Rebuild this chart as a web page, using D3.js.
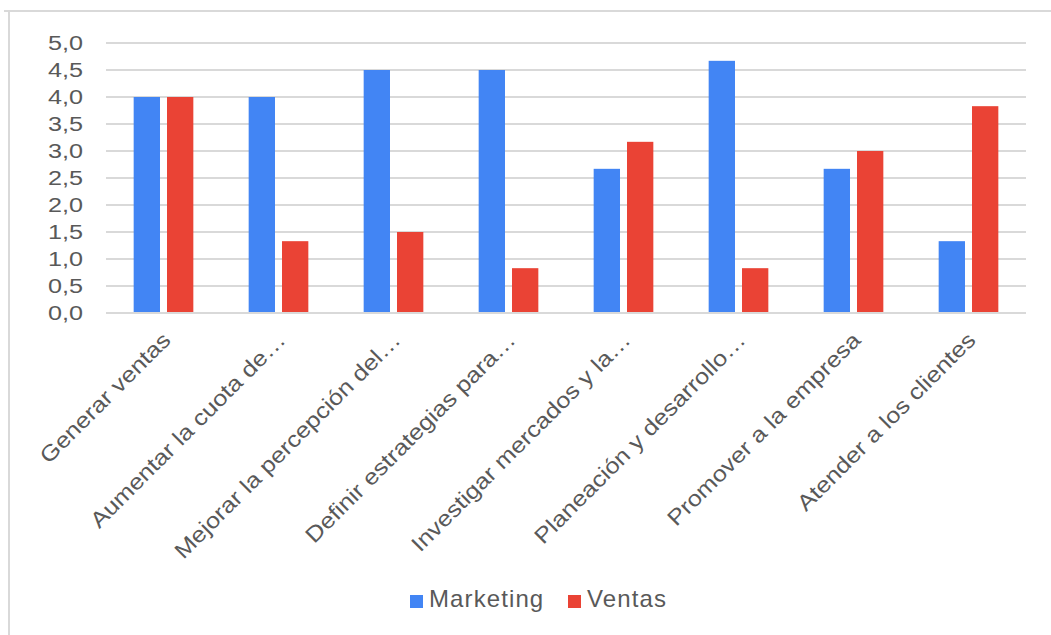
<!DOCTYPE html>
<html>
<head>
<meta charset="utf-8">
<script src="https://cdn.jsdelivr.net/npm/d3@7"></script>
<style>
  body { margin: 0; background: #fff; }
  text { font-family: "Liberation Sans", Arial, sans-serif; fill: #595959; }
</style>
</head>
<body>
<div id="chart"></div>
<script>
// categories and values
var categories = [
  "Generar ventas",
  "Aumentar la cuota de…",
  "Mejorar la percepción del…",
  "Definir estrategias para…",
  "Investigar mercados y la…",
  "Planeación y desarrollo…",
  "Promover a la empresa",
  "Atender a los clientes"
];
var marketing = [4.0, 4.0, 4.5, 4.5, 2.67, 4.67, 2.67, 1.33];
var ventas = [4.0, 1.33, 1.5, 0.83, 3.17, 0.83, 3.0, 3.83];
var seriesNames = ["Marketing", "Ventas"];
var yTicks = [0, 0.5, 1, 1.5, 2, 2.5, 3, 3.5, 4, 4.5, 5];

var width = 1051, height = 635;
var colors = { "Marketing": "#4285f4", "Ventas": "#ea4335" };

var data = categories.map(function(c, i) {
  return { cat: c, Marketing: marketing[i], Ventas: ventas[i] };
});

var svg = d3.select('#chart').append('svg')
  .attr('width', width)
  .attr('height', height);

svg.append('rect').attr('width', width).attr('height', height).attr('fill', '#fff');

// outer frame (top and left edges are visible)
svg.append('line').attr('x1', 4).attr('x2', width).attr('y1', 11).attr('y2', 11)
  .attr('stroke', '#d9d9d9').attr('stroke-width', 2);
svg.append('line').attr('x1', 9).attr('x2', 9).attr('y1', 10).attr('y2', height)
  .attr('stroke', '#d9d9d9').attr('stroke-width', 2);

var x0 = d3.scaleBand().domain(categories).range([106, 1026]);
var x1 = d3.scaleBand().domain(seriesNames)
  .range([0, x0.bandwidth()])
  .paddingInner(0.21)
  .paddingOuter(0.83);
var y = d3.scaleLinear().domain([0, 5]).range([313, 43]);

// gridlines
svg.append('g').selectAll('line').data(yTicks).enter().append('line')
  .attr('x1', 106).attr('x2', 1026)
  .attr('y1', function(d) { return y(d); })
  .attr('y2', function(d) { return y(d); })
  .attr('stroke', '#d9d9d9').attr('stroke-width', 2);

// y axis labels
var yAxis = d3.axisLeft(y).tickValues(yTicks).tickSize(0).tickPadding(0)
  .tickFormat(function(d) { return d3.format('.1f')(d).replace('.', ','); });
var gy = svg.append('g').attr('transform', 'translate(83,0)').call(yAxis);
gy.select('.domain').remove();
gy.selectAll('text').attr('font-size', 21).attr('fill', '#595959')
  .attr('font-family', '"Liberation Sans", Arial, sans-serif')
  .attr('dy', '0.3em')
  .attr('transform', 'scale(1.2,1)');

// bars
var groups = svg.append('g').selectAll('g').data(data).enter().append('g')
  .attr('transform', function(d) { return 'translate(' + x0(d.cat) + ',0)'; });
groups.selectAll('rect')
  .data(function(d) { return seriesNames.map(function(s) { return { key: s, value: d[s] }; }); })
  .enter().append('rect')
  .attr('x', function(d) { return x1(d.key); })
  .attr('width', x1.bandwidth())
  .attr('y', function(d) { return y(d.value); })
  .attr('height', function(d) { return y(0) - 1 - y(d.value); })
  .attr('fill', function(d) { return colors[d.key]; });

// x axis labels, rotated
var xAxis = d3.axisBottom(x0).tickSize(0).tickPadding(0);
var gx = svg.append('g').attr('transform', 'translate(0,336)').call(xAxis);
gx.select('.domain').remove();
gx.selectAll('text')
  .attr('font-size', 22)
  .attr('fill', '#595959')
  .attr('font-family', '"Liberation Sans", Arial, sans-serif')
  .attr('text-anchor', 'end')
  .attr('dy', '0.35em')
  .attr('transform', 'translate(3,0) rotate(-45) scale(1.15,1)');

// legend
var legend = svg.append('g').attr('transform', 'translate(0,607)');
var legendX = [410, 568];
seriesNames.forEach(function(s, i) {
  legend.append('rect').attr('x', legendX[i]).attr('y', -12)
    .attr('width', 13).attr('height', 13).attr('fill', colors[s]);
  legend.append('text').attr('x', legendX[i] + 19).attr('y', 0)
    .attr('font-size', 24).attr('letter-spacing', 1.1).text(s);
});
</script>
</body>
</html>
